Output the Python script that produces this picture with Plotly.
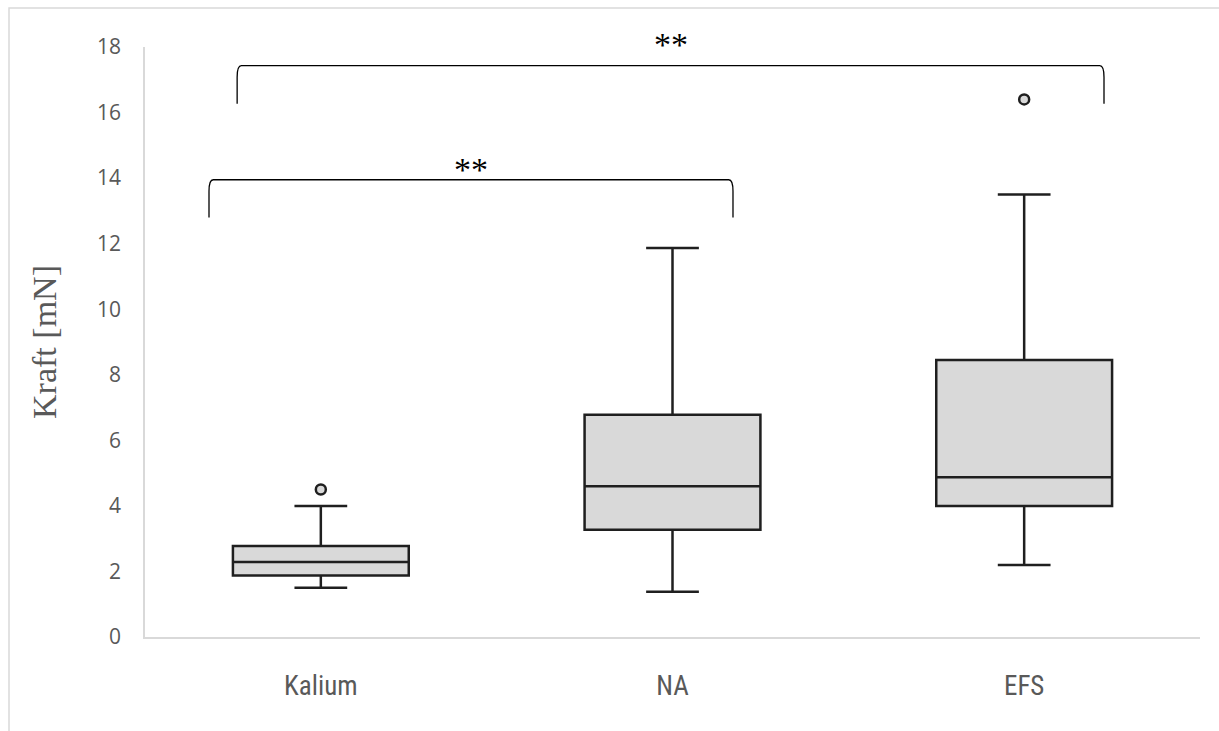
import plotly.graph_objects as go

categories = ["Kalium", "NA", "EFS"]
lower_whisker = [1.5, 1.38, 2.2]
q1_values = [1.88, 3.27, 4.0]
median_values = [2.29, 4.6, 4.87]
q3_values = [2.78, 6.78, 8.45]
upper_whisker = [4.0, 11.87, 13.5]
outlier_x = ["Kalium", "EFS"]
outlier_y = [4.5, 16.4]

# significance brackets: (x_left, x_right, y_bottom, y_top, label, label_y)
brackets = [
    (-0.318, 1.172, 12.8, 13.95, "**", 14.47),
    (-0.238, 2.227, 16.27, 17.43, "**", 18.29),
]
Y_MAX = 18

fig = go.Figure()
fig.add_trace(go.Box(
    x=categories,
    q1=q1_values, median=median_values, q3=q3_values,
    lowerfence=lower_whisker, upperfence=upper_whisker,
    boxpoints=False,
    fillcolor="#d9d9d9",
    line=dict(color="#1f1f1f", width=2.5),
    whiskerwidth=0.3,
    width=0.5,
    showlegend=False,
    hoverinfo="skip",
))
fig.add_trace(go.Scatter(
    x=outlier_x, y=outlier_y, mode="markers",
    marker=dict(symbol="circle", size=10, color="#d9d9d9",
                line=dict(color="#1f1f1f", width=2.5)),
    showlegend=False, hoverinfo="skip",
))

shapes = []
for xl, xr, yb, yt, lab, ly in brackets:
    dx = 0.012
    dy = 0.35
    path = (f"M {xl},{yb} L {xl},{yt - dy} Q {xl},{yt} {xl + dx},{yt} "
            f"L {xr - dx},{yt} Q {xr},{yt} {xr},{yt - dy} L {xr},{yb}")
    shapes.append(dict(type="path", path=path, xref="x", yref="y",
                       line=dict(color="#000000", width=1.3)))
    fig.add_annotation(x=(xl + xr) / 2, y=ly / Y_MAX, xref="x", yref="paper",
                       yanchor="middle", yshift=-7,
                       text=lab, showarrow=False,
                       font=dict(family="Liberation Serif", size=34, color="#000000"))

# outer light gray frame
shapes.append(dict(type="rect", xref="paper", yref="paper",
                   x0=-0.1289, x1=3, y0=-3, y1=1.066,
                   line=dict(color="#d9d9d9", width=1.5), fillcolor="rgba(0,0,0,0)",
                   layer="below"))

fig.update_layout(
    width=1219, height=731,
    margin=dict(l=145, r=19, t=47, b=94),
    paper_bgcolor="white", plot_bgcolor="white",
    shapes=shapes,
    showlegend=False,
)
fig.update_xaxes(
    type="category", range=[-0.5, 2.5],
    showline=True, linecolor="#d9d9d9", linewidth=1.5,
    showgrid=False, zeroline=False, ticks="",
    tickfont=dict(family="Liberation Sans Narrow, Roboto Condensed, Liberation Sans", size=27, color="#595959"),
    ticklabelstandoff=24,
)
fig.update_yaxes(
    range=[0, Y_MAX], dtick=2, tick0=0,
    showline=True, linecolor="#d9d9d9", linewidth=1.5,
    showgrid=False, zeroline=False, ticks="",
    tickfont=dict(family="Open Sans", size=21, color="#595959"),
    ticklabelstandoff=18,
    title=dict(text="Kraft [mN]", standoff=30,
               font=dict(family="Liberation Serif", size=34, color="#595959")),
)

fig.write_html("out.html")
